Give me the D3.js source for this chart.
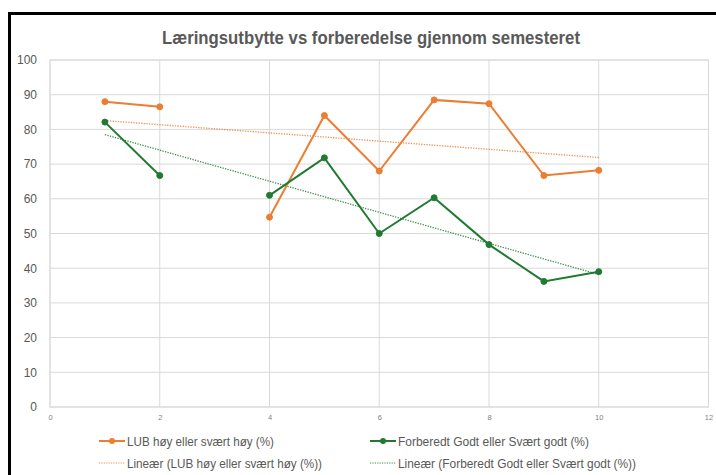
<!DOCTYPE html>
<html><head><meta charset="utf-8">
<script src="https://cdn.jsdelivr.net/npm/d3@7"></script>
<style>body{margin:0;background:#fff;}svg{display:block;}</style>
</head><body>
<svg id="c" width="716" height="475"></svg>
<script>
const title = "Læringsutbytte vs forberedelse gjennom semesteret";
const xValues = [1, 2, 4, 5, 6, 7, 8, 9, 10];
const lubValues = [88, 86.5, 54.7, 84, 68, 88.5, 87.4, 66.7, 68.2];
const forbValues = [82.1, 66.7, 61, 71.8, 50, 60.3, 46.8, 36.2, 39];
const seriesNames = ["LUB høy eller svært høy (%)", "Forberedt Godt eller Svært godt (%)"];
const trendNames = ["Lineær (LUB høy eller svært høy (%))", "Lineær (Forberedt Godt eller Svært godt (%))"];
const xTicks = [0, 2, 4, 6, 8, 10, 12];
const yTicks = [0, 10, 20, 30, 40, 50, 60, 70, 80, 90, 100];
const colors = ["#ED7D31", "#217A32"];

const svg = d3.select("#c");
const font = "'Liberation Sans',Arial,sans-serif";
// outer frame
svg.append("rect").attr("x", 9.5).attr("y", 13.5).attr("width", 720).attr("height", 480)
  .attr("fill", "#fff").attr("stroke", "#000").attr("stroke-width", 3);

const x = d3.scaleLinear().domain([0, 12]).range([50, 708.5]);
const y = d3.scaleLinear().domain([0, 100]).range([407, 60]);

// gridlines
svg.append("g").selectAll("line").data(yTicks).join("line")
  .attr("x1", x(0)).attr("x2", x(12)).attr("y1", d => y(d)).attr("y2", d => y(d))
  .attr("stroke", "#d9d9d9").attr("stroke-width", 1);
svg.append("g").selectAll("line").data(xTicks).join("line")
  .attr("y1", y(0)).attr("y2", y(100)).attr("x1", d => x(d)).attr("x2", d => x(d))
  .attr("stroke", "#d9d9d9").attr("stroke-width", 1);
svg.append("rect").attr("x", x(0)).attr("y", y(100)).attr("width", x(12) - x(0)).attr("height", y(0) - y(100))
  .attr("fill", "none").attr("stroke", "#d9d9d9");

const yAxis = svg.append("g").attr("transform", `translate(${x(0)},0)`)
  .call(d3.axisLeft(y).tickValues(yTicks).tickSize(0).tickPadding(13));
yAxis.select(".domain").remove();
yAxis.selectAll("text").attr("fill", "#595959").style("font-family", font).style("font-size", "12px");

const xAxis = svg.append("g").attr("transform", `translate(0,${y(0)})`)
  .call(d3.axisBottom(x).tickValues(xTicks).tickSize(0).tickPadding(8));
xAxis.select(".domain").remove();
xAxis.selectAll("text").attr("fill", "#7f7f7f").style("font-family", font).style("font-size", "7.5px");

// title
svg.append("text").attr("x", 162).attr("y", 44)
  .attr("textLength", 418).attr("lengthAdjust", "spacingAndGlyphs")
  .attr("fill", "#595959").style("font-family", font).style("font-weight", "bold").style("font-size", "18px")
  .text(title);

function linreg(xs, ys) {
  const mx = d3.mean(xs), my = d3.mean(ys);
  let sxy = 0, sxx = 0;
  xs.forEach((v, i) => { sxy += (v - mx) * (ys[i] - my); sxx += (v - mx) * (v - mx); });
  const b = sxy / sxx, a = my - b * mx;
  return v => a + b * v;
}

const allSeries = [lubValues, forbValues];
allSeries.forEach((vals, si) => {
  const f = linreg(xValues, vals);
  const xmin = d3.min(xValues), xmax = d3.max(xValues);
  svg.append("line").attr("x1", x(xmin)).attr("y1", y(f(xmin))).attr("x2", x(xmax)).attr("y2", y(f(xmax)))
    .attr("stroke", colors[si]).attr("stroke-width", 1.3).attr("stroke-dasharray", "1.3,1.3").attr("opacity", 0.85);
});

allSeries.forEach((vals, si) => {
  const pts = xValues.map((v, i) => [v, vals[i]]);
  const line = d3.line().x(d => x(d[0])).y(d => y(d[1]));
  const segs = [];
  let cur = [];
  pts.forEach((p, i) => {
    if (i > 0 && p[0] - pts[i - 1][0] > 1) { segs.push(cur); cur = []; }
    cur.push(p);
  });
  segs.push(cur);
  segs.forEach(s => svg.append("path").attr("d", line(s)).attr("fill", "none")
    .attr("stroke", colors[si]).attr("stroke-width", 2));
  svg.append("g").selectAll("circle").data(pts).join("circle")
    .attr("cx", d => x(d[0])).attr("cy", d => y(d[1])).attr("r", 3)
    .attr("fill", colors[si]).attr("stroke", colors[si]);
});

// legend
const legX = [99, 370], legY = [441, 463];
const nameW = [147, 191], trendW = [195, 238];
[0, 1].forEach(si => {
  const g = svg.append("g");
  g.append("line").attr("x1", legX[si]).attr("x2", legX[si] + 26).attr("y1", legY[0]).attr("y2", legY[0])
    .attr("stroke", colors[si]).attr("stroke-width", 2);
  g.append("circle").attr("cx", legX[si] + 13).attr("cy", legY[0]).attr("r", 3).attr("fill", colors[si]);
  g.append("text").attr("x", legX[si] + 28).attr("y", legY[0] + 4.5).attr("fill", "#595959")
    .attr("textLength", nameW[si]).attr("lengthAdjust", "spacingAndGlyphs")
    .style("font-family", font).style("font-size", "13px").text(seriesNames[si]);
  g.append("line").attr("x1", legX[si]).attr("x2", legX[si] + 26).attr("y1", legY[1]).attr("y2", legY[1])
    .attr("stroke", colors[si]).attr("stroke-width", 1.2).attr("stroke-dasharray", "1.2,1.2").attr("opacity", 0.85);
  g.append("text").attr("x", legX[si] + 28).attr("y", legY[1] + 4.5).attr("fill", "#595959")
    .attr("textLength", trendW[si]).attr("lengthAdjust", "spacingAndGlyphs")
    .style("font-family", font).style("font-size", "13px").text(trendNames[si]);
});
</script>
</body></html>
